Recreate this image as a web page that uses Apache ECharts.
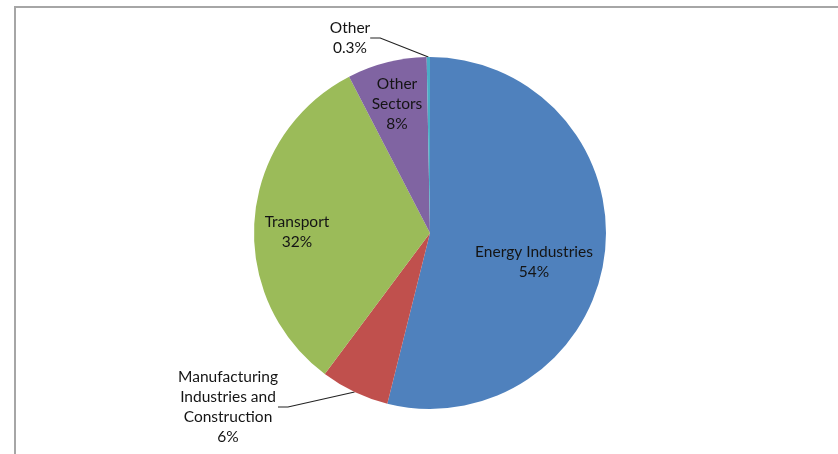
<!DOCTYPE html>
<html>
<head>
<meta charset="utf-8">
<script src="https://cdn.jsdelivr.net/npm/echarts@6/dist/echarts.min.js"></script>
<style>html,body{margin:0;padding:0;background:#fff;}#c{width:838px;height:454px;}</style>
</head>
<body>
<div id="c"></div>
<script>
var categories = ['Energy Industries', 'Manufacturing Industries and Construction', 'Transport', 'Other Sectors', 'Other'];
var labelNames = ['Energy Industries', 'Manufacturing\nIndustries and\nConstruction', 'Transport', 'Other\nSectors', 'Other'];
var values = [53.9, 6.3, 32.2, 7.3, 0.3];
var percentLabels = ['54%', '6%', '32%', '8%', '0.3%'];
var colors = ['#4F81BD', '#C0504D', '#9BBB59', '#8064A2', '#4BACC6'];
var outside = [false, true, false, false, true];

var labelPos = [[534, 262], [228, 407], [297, 232], [397, 104], [350, 38]];

var chart = echarts.init(document.getElementById('c'), null, {renderer: 'canvas'});
var data = categories.map(function (c, i) {
  return {
    name: c,
    value: values[i],
    itemStyle: {color: colors[i]},
    label: {
      position: outside[i] ? 'outside' : 'inside',
      formatter: labelNames[i] + '\n' + percentLabels[i]
    },
    labelLine: {show: outside[i], length: 10, length2: 10, smooth: false,
      lineStyle: {color: '#222', width: 1.2}}
  };
});
chart.setOption({
  animation: false,
  backgroundColor: '#fff',
  graphic: [{
    type: 'rect', shape: {x: 15, y: 7, width: 900, height: 600},
    style: {fill: null, stroke: '#a6a6a6', lineWidth: 2}, silent: true
  }],
  series: [{
    type: 'pie',
    center: [430, 233],
    radius: [0, 176],
    startAngle: 90,
    clockwise: true,
    avoidLabelOverlap: false,
    data: data,
    label: {
      show: true,
      fontFamily: 'Lato',
      fontSize: 15.5,
      lineHeight: 20,
      color: '#141414',
      align: 'center'
    },
    labelLayout: function (p) {
      var pos = labelPos[p.dataIndex];
      return {x: pos[0], y: pos[1], align: 'center', verticalAlign: 'middle'};
    },
    emphasis: {disabled: true}
  }]
});
</script>
</body>
</html>
